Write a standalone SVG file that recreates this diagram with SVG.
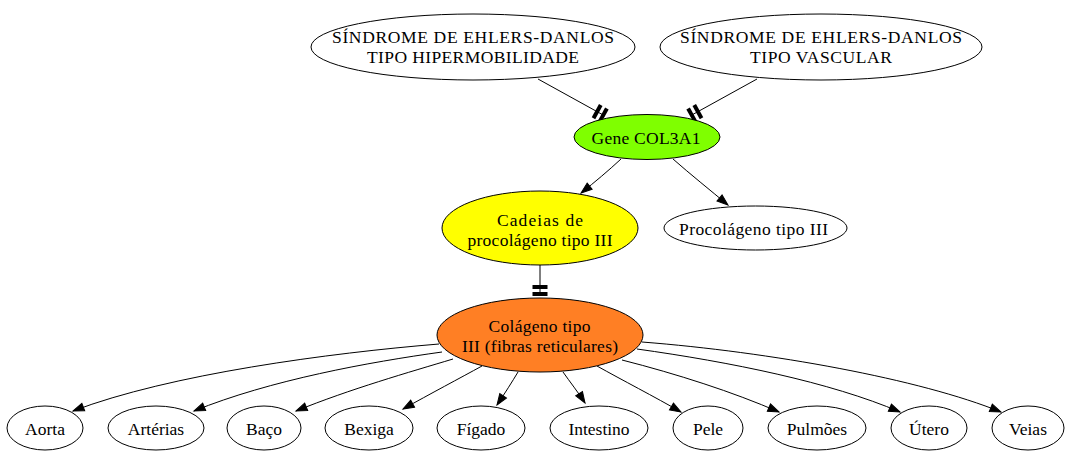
<svg xmlns="http://www.w3.org/2000/svg" width="1072" height="456" viewBox="0 0 1072 456">
<style>
  .n ellipse { stroke: #000; stroke-width: 1; }
  .n text { font-family: "Liberation Serif", "Times New Roman", serif; font-size: 17.5px; text-anchor: middle; fill: #000; }
  .e path { fill: none; stroke: #000; stroke-width: 1; }
  .arrow { marker-end: url(#arr); }
  .tee { marker-end: url(#tee); }
</style>
<defs>
  <marker id="arr" markerUnits="userSpaceOnUse" viewBox="-11 -5 12 10" refX="0" refY="0" markerWidth="12" markerHeight="10" orient="auto" overflow="visible">
    <path d="M-11,-4 L0,0 L-11,4 Z" fill="#000" stroke="#000" stroke-width="1"/>
  </marker>
  <marker id="tee" markerUnits="userSpaceOnUse" viewBox="-14 -8 15 16" refX="0" refY="0" markerWidth="15" markerHeight="16" orient="auto" overflow="visible">
    <rect x="-11" y="-7.5" width="4" height="15" fill="#000"/>
    <rect x="-4" y="-7.5" width="4" height="15" fill="#000"/>
  </marker>
</defs>
<rect width="1072" height="456" fill="#fff"/>

<g id="connectors" class="e">
  <path class="tee" d="M538,79 L605,116"/>
  <path class="tee" d="M757,79 L690,116"/>
  <path class="arrow" d="M621,159 C608,171 595,182 581,193"/>
  <path class="arrow" d="M673,159 C690,174 710,190 728,205"/>
  <path class="tee" d="M540,265 L540,296"/>
  <path class="arrow" d="M439,344 C330,353 170,374 73,411"/>
  <path class="arrow" d="M442,352 C370,362 270,380 194,411"/>
  <path class="arrow" d="M453,359 C410,372 350,389 296,411"/>
  <path class="arrow" d="M482,366 C460,378 430,394 403,409"/>
  <path class="arrow" d="M518,372 C512,382 505,393 497,405"/>
  <path class="arrow" d="M563,372 C570,382 578,392 585,403"/>
  <path class="arrow" d="M597,366 C622,380 655,397 681,412"/>
  <path class="arrow" d="M622,360 C677,374 733,392 779,412"/>
  <path class="arrow" d="M637,349 C730,362 830,382 900,412"/>
  <path class="arrow" d="M642,342 C770,352 920,379 1001,412"/>
</g>

<g id="sed-hipermobilidade" class="n">
  <ellipse cx="473" cy="47" rx="162" ry="33" fill="#fff"/>
  <text x="473" y="43" textLength="282" lengthAdjust="spacing">SÍNDROME DE EHLERS-DANLOS</text>
  <text x="473" y="63" textLength="212" lengthAdjust="spacing">TIPO HIPERMOBILIDADE</text>
</g>
<g id="sed-vascular" class="n">
  <ellipse cx="821" cy="47" rx="161" ry="33" fill="#fff"/>
  <text x="821" y="43" textLength="282" lengthAdjust="spacing">SÍNDROME DE EHLERS-DANLOS</text>
  <text x="821" y="63" textLength="142" lengthAdjust="spacing">TIPO VASCULAR</text>
</g>
<g id="gene-col3a1" class="n">
  <ellipse cx="647" cy="137" rx="73" ry="22.5" fill="#7fff00"/>
  <text x="646" y="143.5" textLength="109" lengthAdjust="spacing">Gene COL3A1</text>
</g>
<g id="cadeias" class="n">
  <ellipse cx="540" cy="228" rx="98" ry="37" fill="#ffff00"/>
  <text x="540" y="225.5" textLength="86" lengthAdjust="spacing">Cadeias de</text>
  <text x="540" y="245.5" textLength="145" lengthAdjust="spacing">procolágeno tipo III</text>
</g>
<g id="procolageno" class="n">
  <ellipse cx="755.5" cy="228" rx="91.5" ry="22" fill="#fff"/>
  <text x="753.5" y="234.5" textLength="149" lengthAdjust="spacing">Procolágeno tipo III</text>
</g>
<g id="colageno" class="n">
  <ellipse cx="540" cy="335" rx="103" ry="37" fill="#ff7f24"/>
  <text x="539.5" y="332" textLength="102" lengthAdjust="spacing">Colágeno tipo</text>
  <text x="540" y="352" textLength="156" lengthAdjust="spacing">III (fibras reticulares)</text>
</g>
<g id="aorta" class="n"><ellipse cx="45" cy="428" rx="38" ry="22" fill="#fff"/><text x="45" y="434.5">Aorta</text></g>
<g id="arterias" class="n"><ellipse cx="156" cy="428" rx="48" ry="22" fill="#fff"/><text x="156" y="434.5">Artérias</text></g>
<g id="baco" class="n"><ellipse cx="264" cy="428" rx="37" ry="22" fill="#fff"/><text x="264" y="434.5">Baço</text></g>
<g id="bexiga" class="n"><ellipse cx="369" cy="428" rx="44" ry="22" fill="#fff"/><text x="369" y="434.5">Bexiga</text></g>
<g id="figado" class="n"><ellipse cx="481" cy="428" rx="44" ry="22" fill="#fff"/><text x="481" y="434.5">Fígado</text></g>
<g id="intestino" class="n"><ellipse cx="599" cy="428" rx="49" ry="22" fill="#fff"/><text x="599" y="434.5">Intestino</text></g>
<g id="pele" class="n"><ellipse cx="708" cy="428" rx="35" ry="22" fill="#fff"/><text x="708" y="434.5">Pele</text></g>
<g id="pulmoes" class="n"><ellipse cx="817" cy="428" rx="49" ry="22" fill="#fff"/><text x="817" y="434.5">Pulmões</text></g>
<g id="utero" class="n"><ellipse cx="929" cy="428" rx="38" ry="22" fill="#fff"/><text x="929" y="434.5">Útero</text></g>
<g id="veias" class="n"><ellipse cx="1028" cy="428" rx="36" ry="22" fill="#fff"/><text x="1028" y="434.5">Veias</text></g>
</svg>
